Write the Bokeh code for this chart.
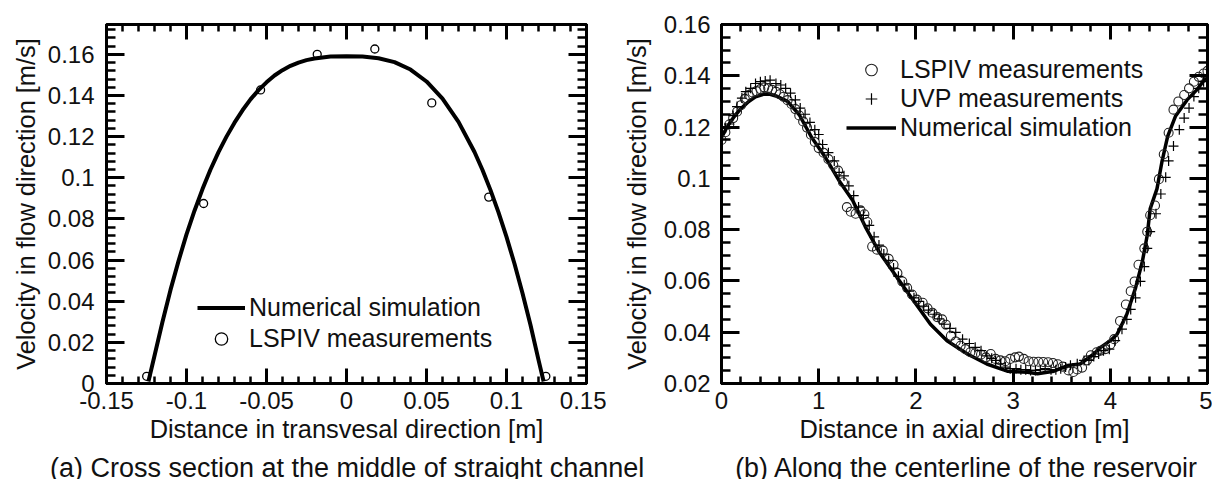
from bokeh.plotting import figure
from bokeh.models import LinearAxis, FixedTicker, Legend, LegendItem, Label
from bokeh.layouts import row, column
from bokeh.embed import file_html
from bokeh.resources import INLINE
import numpy as np

# ---------------- (a) cross section data ----------------
a_sim_x = [-0.1238, -0.120, -0.115, -0.110, -0.105, -0.100, -0.095, -0.090, -0.085, -0.080,
           -0.075, -0.070, -0.065, -0.060, -0.055, -0.050, -0.045, -0.040, -0.035, -0.030,
           -0.025, -0.020, -0.010, 0.000, 0.010, 0.020, 0.030, 0.040, 0.050, 0.060,
           0.070, 0.080, 0.085, 0.090, 0.095, 0.100, 0.105, 0.110, 0.115, 0.120, 0.1232]
a_sim_y = [0.001, 0.0135, 0.0300, 0.0455, 0.0595, 0.0725, 0.0840, 0.0945, 0.1040, 0.1125,
           0.1200, 0.1268, 0.1328, 0.1381, 0.1426, 0.1464, 0.1497, 0.1523, 0.1544, 0.1560,
           0.1572, 0.1580, 0.1589, 0.1591, 0.1589, 0.1581, 0.1562, 0.1526, 0.1468, 0.1385,
           0.1272, 0.1125, 0.1038, 0.0940, 0.0832, 0.0713, 0.0582, 0.0439, 0.0284, 0.0115, 0.001]
a_lspiv_x = [-0.1249, -0.0893, -0.0537, -0.0183, 0.0177, 0.0533, 0.0889, 0.1246]
a_lspiv_y = [0.0035, 0.0875, 0.1427, 0.1600, 0.1626, 0.1364, 0.0906, 0.0035]
a_xticks = [-0.15, -0.1, -0.05, 0.0, 0.05, 0.1, 0.15]
a_xtick_labels = ["-0.15", "-0.1", "-0.05", "0", "0.05", "0.1", "0.15"]
a_yticks = [0.0, 0.02, 0.04, 0.06, 0.08, 0.1, 0.12, 0.14, 0.16]
a_ytick_labels = ["0", "0.02", "0.04", "0.06", "0.08", "0.1", "0.12", "0.14", "0.16"]

# ---------------- (b) centerline data ----------------
b_sim_x = [0.00, 0.05, 0.10, 0.15, 0.20, 0.28, 0.35, 0.44, 0.50, 0.57, 0.68, 0.80, 0.93, 1.07,
           1.21, 1.35, 1.48, 1.62, 1.81, 1.98, 2.15, 2.32, 2.53, 2.73, 2.94, 3.15, 3.25, 3.42,
           3.56, 3.69, 3.83, 3.90, 4.00, 4.07, 4.17, 4.26, 4.33, 4.38, 4.41, 4.48, 4.53, 4.59,
           4.67, 4.79, 4.89, 5.00]
b_sim_y = [0.1160, 0.1195, 0.1225, 0.1250, 0.1272, 0.1300, 0.1318, 0.1329, 0.1328, 0.1320,
           0.1300, 0.1248, 0.1158, 0.1081, 0.0991, 0.0914, 0.0811, 0.0714, 0.0611, 0.0521,
           0.0431, 0.0367, 0.0315, 0.0276, 0.0248, 0.0244, 0.0238, 0.0248, 0.0270, 0.0276,
           0.0315, 0.0341, 0.0367, 0.0392, 0.0470, 0.0573, 0.0676, 0.0778, 0.0881, 0.0959,
           0.1062, 0.1164, 0.1242, 0.1306, 0.1345, 0.1400]
b_lspiv_x = [0.00, 0.04, 0.08, 0.12, 0.16, 0.20, 0.24, 0.28, 0.32, 0.36, 0.40, 0.44, 0.48,
             0.52, 0.56, 0.60, 0.64, 0.68, 0.72, 0.76, 0.80, 0.84, 0.88, 0.92, 0.96, 1.00,
             1.05, 1.10, 1.15, 1.20, 1.25, 1.29, 1.33, 1.38, 1.43, 1.47, 1.50, 1.55, 1.60,
             1.66, 1.72, 1.77, 1.81, 1.86, 1.91, 1.96, 2.01, 2.07, 2.12, 2.17, 2.22, 2.27,
             2.31, 2.36, 2.41, 2.46, 2.51, 2.56, 2.61, 2.67, 2.72, 2.77, 2.82, 2.87, 2.92,
             2.97, 3.02, 3.06, 3.11, 3.16, 3.21, 3.26, 3.31, 3.36, 3.41, 3.46, 3.51, 3.57,
             3.62, 3.66, 3.71, 3.76, 3.80, 3.86, 3.90, 3.95, 4.00, 4.04, 4.10, 4.16, 4.21,
             4.25, 4.29, 4.35, 4.38, 4.41, 4.46, 4.50, 4.55, 4.60, 4.65, 4.70, 4.76, 4.81,
             4.86, 4.91, 4.96, 5.00]
b_lspiv_y = [0.1150, 0.1180, 0.1210, 0.1235, 0.1260, 0.1285, 0.1310, 0.1325, 0.1335, 0.1340,
             0.1348, 0.1355, 0.1352, 0.1345, 0.1338, 0.1328, 0.1318, 0.1305, 0.1290, 0.1270,
             0.1245, 0.1222, 0.1198, 0.1170, 0.1142, 0.1118, 0.1100, 0.1075, 0.1052, 0.1030,
             0.0985, 0.0888, 0.0870, 0.0862, 0.0875, 0.0860, 0.0830, 0.0734, 0.0722, 0.0718,
             0.0686, 0.0663, 0.0631, 0.0598, 0.0573, 0.0547, 0.0527, 0.0515, 0.0493, 0.0476,
             0.0459, 0.0450, 0.0429, 0.0386, 0.0364, 0.0347, 0.0334, 0.0322, 0.0318, 0.0313,
             0.0302, 0.0315, 0.0296, 0.0290, 0.0287, 0.0296, 0.0302, 0.0305, 0.0296, 0.0287,
             0.0285, 0.0285, 0.0284, 0.0283, 0.0280, 0.0275, 0.0266, 0.0251, 0.0245, 0.0255,
             0.0262, 0.0290, 0.0310, 0.0322, 0.0328, 0.0334, 0.0352, 0.0373, 0.0444, 0.0508,
             0.0560, 0.0598, 0.0663, 0.0727, 0.0792, 0.0856, 0.0894, 0.0997, 0.1094, 0.1178,
             0.1268, 0.1300, 0.1325, 0.1351, 0.1377, 0.1396, 0.1409, 0.1419]
b_uvp_x = [0.00, 0.04, 0.08, 0.12, 0.16, 0.21, 0.25, 0.30, 0.35, 0.40, 0.45, 0.50, 0.56, 0.61,
           0.66, 0.71, 0.76, 0.81, 0.86, 0.91, 0.96, 1.00, 1.04, 1.10, 1.16, 1.21, 1.26, 1.31,
           1.36, 1.41, 1.46, 1.52, 1.57, 1.62, 1.67, 1.72, 1.77, 1.82, 1.88, 1.93, 1.98, 2.03,
           2.08, 2.13, 2.19, 2.24, 2.29, 2.35, 2.41, 2.48, 2.55, 2.61, 2.67, 2.73, 2.78, 2.82,
           2.87, 2.92, 2.97, 3.03, 3.08, 3.13, 3.18, 3.23, 3.28, 3.33, 3.39, 3.44, 3.49, 3.54,
           3.59, 3.66, 3.73, 3.78, 3.83, 3.88, 3.93, 3.99, 4.05, 4.12, 4.17, 4.21, 4.26, 4.31,
           4.35, 4.38, 4.41, 4.47, 4.52, 4.57, 4.60, 4.65, 4.71, 4.76, 4.81, 4.86, 4.91, 4.96,
           5.00]
b_uvp_y = [0.1181, 0.1195, 0.1212, 0.1245, 0.1280, 0.1313, 0.1338, 0.1351, 0.1370, 0.1377,
           0.1380, 0.1383, 0.1370, 0.1364, 0.1351, 0.1332, 0.1306, 0.1274, 0.1250, 0.1218,
           0.1190, 0.1171, 0.1132, 0.1100, 0.1068, 0.1023, 0.1010, 0.0971, 0.0933, 0.0888,
           0.0856, 0.0817, 0.0772, 0.0740, 0.0705, 0.0680, 0.0650, 0.0618, 0.0585, 0.0560,
           0.0534, 0.0520, 0.0502, 0.0486, 0.0470, 0.0452, 0.0431, 0.0415, 0.0399, 0.0373,
           0.0356, 0.0341, 0.0328, 0.0308, 0.0298, 0.0290, 0.0277, 0.0264, 0.0258, 0.0258,
           0.0254, 0.0254, 0.0251, 0.0251, 0.0254, 0.0258, 0.0254, 0.0254, 0.0258, 0.0264,
           0.0271, 0.0277, 0.0290, 0.0290, 0.0305, 0.0315, 0.0328, 0.0334, 0.0367, 0.0412,
           0.0450, 0.0489, 0.0534, 0.0598, 0.0656, 0.0727, 0.0792, 0.0862, 0.0939, 0.1004,
           0.1068, 0.1126, 0.1190, 0.1235, 0.1274, 0.1319, 0.1351, 0.1377, 0.1403]
b_xticks = [0, 1, 2, 3, 4, 5]
b_xtick_labels = ["0", "1", "2", "3", "4", "5"]
b_yticks = [0.02, 0.04, 0.06, 0.08, 0.1, 0.12, 0.14, 0.16]
b_ytick_labels = ["0.02", "0.04", "0.06", "0.08", "0.1", "0.12", "0.14", "0.16"]

caption_a = "(a) Cross section at the middle of straight channel"
caption_b = "(b) Along the centerline of the reservoir"

FONT = "Liberation Sans"
TXT = "#111111"


def style(p, xt, xl, xminor, yt, yl, yminor, xlabel, ylabel, ystand, ylab_stand):
    p.xgrid.visible = False
    p.ygrid.visible = False
    p.outline_line_color = "black"
    p.outline_line_width = 3
    bottom = p.below[0]
    left = p.left[0]
    bottom.axis_label = xlabel
    left.axis_label = ylabel
    top = LinearAxis()
    right = LinearAxis()
    p.add_layout(top, "above")
    p.add_layout(right, "right")
    for ax in [bottom, top]:
        ax.ticker = FixedTicker(ticks=xt, minor_ticks=xminor)
        ax.major_label_overrides = dict(zip(xt, xl))
        ax.major_tick_in = 15
        ax.minor_tick_in = 7
    for ax in [left, right]:
        ax.ticker = FixedTicker(ticks=yt, minor_ticks=yminor)
        ax.major_label_overrides = dict(zip(yt, yl))
        ax.major_tick_in = 18
        ax.minor_tick_in = 9
    for ax in [bottom, top, left, right]:
        ax.major_tick_out = 0
        ax.minor_tick_out = 0
        ax.axis_line_width = 3
        ax.major_tick_line_width = 3
        ax.minor_tick_line_width = 2.5
        ax.major_label_text_font = FONT
        ax.major_label_text_font_size = "24px"
        ax.major_label_text_color = TXT
        ax.axis_label_text_font = FONT
        ax.axis_label_text_font_size = "25.4px"
        ax.axis_label_text_font_style = "normal"
        ax.axis_label_text_color = TXT
    for ax in [top, right]:
        ax.major_label_text_font_size = "1px"
        ax.major_label_text_color = None
        ax.major_label_standoff = 0
    bottom.major_label_standoff = 8
    bottom.axis_label_standoff = 3
    left.major_label_standoff = ystand
    left.axis_label_standoff = ylab_stand


# ---------------- figure (a) ----------------
pa = figure(width=606, height=479, x_range=(-0.15, 0.15), y_range=(0, 0.1745),
            output_backend="svg", toolbar_location=None,
            min_border_left=106, min_border_right=20, min_border_top=23, min_border_bottom=96)
style(pa, a_xticks, a_xtick_labels, list(np.round(np.arange(-0.15, 0.1501, 0.01), 3)),
      a_yticks, a_ytick_labels, list(np.round(np.arange(0, 0.1745, 0.004), 3)),
      "Distance in transvesal direction [m]", "Velocity in flow direction [m/s]", 12, 5)
ra1 = pa.line(a_sim_x, a_sim_y, line_color="black", line_width=4)
ra2 = pa.scatter(a_lspiv_x, a_lspiv_y, marker="circle", size=8, fill_color=None,
                 line_color="black", line_width=1.3)
lega = Legend(items=[LegendItem(label="Numerical simulation", renderers=[ra1]),
                     LegendItem(label="LSPIV measurements", renderers=[ra2])],
              location=(91, 29), padding=0, margin=0, spacing=0,
              glyph_width=48, glyph_height=31, label_height=31, label_standoff=4,
              border_line_alpha=0, background_fill_alpha=0,
              label_text_font=FONT, label_text_font_size="25px", label_text_color=TXT)
pa.add_layout(lega)

# ---------------- figure (b) ----------------
pb = figure(width=606, height=479, x_range=(0, 5), y_range=(0.02, 0.16),
            output_backend="svg", toolbar_location=None,
            min_border_left=115, min_border_right=5, min_border_top=24, min_border_bottom=93)
style(pb, b_xticks, b_xtick_labels, list(np.round(np.arange(0, 5.001, 0.2), 2)),
      b_yticks, b_ytick_labels, list(np.round(np.arange(0.02, 0.1601, 0.005), 3)),
      "Distance in axial direction [m]", "Velocity in flow direction [m/s]", 11, 10)
rb3 = pb.line(b_sim_x, b_sim_y, line_color="black", line_width=3.5)
rb1 = pb.scatter(b_lspiv_x, b_lspiv_y, marker="circle", size=9, fill_color=None,
                 line_color="#222222", line_width=1.1)
rb2 = pb.scatter(b_uvp_x, b_uvp_y, marker="cross", size=10, line_color="black", line_width=1.2)
legb = Legend(items=[LegendItem(label="LSPIV measurements", renderers=[rb1]),
                     LegendItem(label="UVP measurements", renderers=[rb2]),
                     LegendItem(label="Numerical simulation", renderers=[rb3])],
              location=(125, 241), padding=0, margin=0, spacing=0,
              glyph_width=50, glyph_height=29, label_height=29, label_standoff=4,
              border_line_alpha=0, background_fill_alpha=0,
              label_text_font=FONT, label_text_font_size="25px", label_text_color=TXT)
pb.add_layout(legb)

# ---------------- caption strip (transparent overlay on the bottom of the row) ----------------
cap = figure(width=1212, height=40, x_range=(0, 1), y_range=(0, 1),
             x_axis_type=None, y_axis_type=None,
             output_backend="svg", toolbar_location=None,
             min_border_left=0, min_border_right=0, min_border_top=0, min_border_bottom=0)
cap.outline_line_color = None
cap.background_fill_alpha = 0
cap.border_fill_alpha = 0
cap.margin = (-40, 0, 0, 0)
cap.add_layout(Label(x=49.5, y=28, x_units="canvas", y_units="canvas", text=caption_a,
                     text_font=FONT, text_font_size="27px", text_color=TXT,
                     text_align="left", text_baseline="alphabetic"))
cap.add_layout(Label(x=734.7, y=28, x_units="canvas", y_units="canvas", text=caption_b,
                     text_font=FONT, text_font_size="26.8px", text_color=TXT,
                     text_align="left", text_baseline="alphabetic"))

layout = column(row(pa, pb), cap)
open("out.html", "w").write(file_html(layout, INLINE))
